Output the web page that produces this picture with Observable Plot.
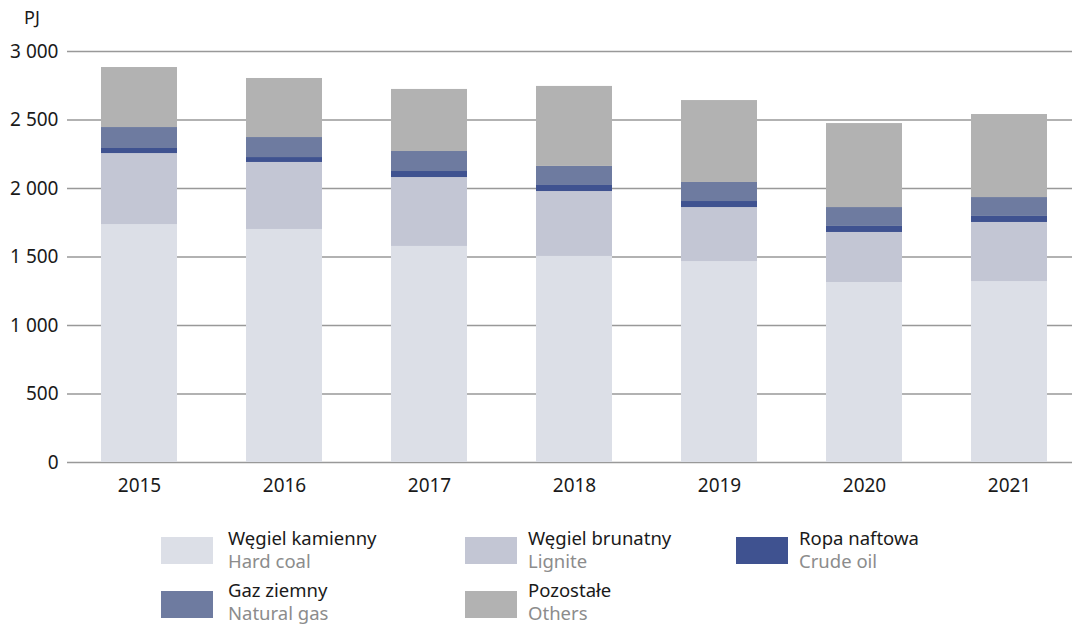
<!DOCTYPE html>
<html>
<head>
<meta charset="utf-8">
<script src="https://cdn.jsdelivr.net/npm/d3@7"></script>
<script src="https://cdn.jsdelivr.net/npm/@observablehq/plot@0.6"></script>
<style>
  body { margin: 0; background: #fff; font-family: "Noto Sans", sans-serif; }
  #wrap { position: relative; width: 1072px; height: 624px; overflow: hidden; }
  #unit { position: absolute; left: 24px; top: 5px; font-size: 18px; color: #1a1a1a; }
  .sw { position: absolute; width: 52px; height: 27px; }
  .lt { position: absolute; font-size: 18.5px; line-height: 23px; color: #1a1a1a; white-space: nowrap; }
  .lt span { display: block; color: #8c8c8c; }
</style>
</head>
<body>
<div id="wrap">
  <div id="chart"></div>
  <div id="unit">PJ</div>
  <div id="legend"></div>
</div>
<script>
const years = ["2015", "2016", "2017", "2018", "2019", "2020", "2021"];
const seriesPl = ["Węgiel kamienny", "Węgiel brunatny", "Ropa naftowa", "Gaz ziemny", "Pozostałe"];
const seriesEn = ["Hard coal", "Lignite", "Crude oil", "Natural gas", "Others"];
const colors = ["#dcdfe7", "#c3c6d4", "#3f5290", "#6e7ba0", "#b2b2b2"];
const hardCoal = [1737, 1701, 1577, 1504, 1467, 1314, 1321];
const lignite  = [518, 489, 503, 474, 394, 365, 431];
const crudeOil = [37, 36, 44, 44, 44, 44, 44];
const naturalGas = [153, 146, 146, 139, 139, 138, 138];
const others   = [438, 431, 453, 584, 598, 613, 606];
const yTicks = [0, 500, 1000, 1500, 2000, 2500, 3000];

const seriesValues = [hardCoal, lignite, crudeOil, naturalGas, others];
const data = [];
seriesValues.forEach((vals, si) => {
  vals.forEach((v, yi) => data.push({year: years[yi], series: seriesPl[si], order: si, value: v}));
});

const fmt = d3.formatLocale({thousands: " ", grouping: [3], decimal: ","}).format(",");

const chart = Plot.plot({
  width: 1072,
  height: 500,
  marginTop: 51,
  marginBottom: 38,
  marginLeft: 67,
  marginRight: 0,
  style: {fontFamily: "Noto Sans, sans-serif", fontSize: "19px", color: "#1a1a1a", background: "#fff"},
  x: {domain: years, paddingInner: 0.476, paddingOuter: 0.2034, align: 0.576, label: null},
  y: {domain: [0, 3000], label: null},
  color: {domain: seriesPl, range: colors},
  marks: [
    Plot.gridY(yTicks, {stroke: "#999999", strokeOpacity: 1, strokeWidth: 1.4}),
    Plot.barY(data, {x: "year", y: "value", fill: "series", order: seriesPl}),
    Plot.axisY(yTicks, {tickSize: 0, tickPadding: 9, tickFormat: fmt, label: null, fontSize: 19}),
    Plot.axisX({tickSize: 0, tickPadding: 16, label: null, fontSize: 19})
  ]
});
document.getElementById("chart").appendChild(chart);

const legendPos = [
  {sx: 161, sy: 537, tx: 228, ty: 526},
  {sx: 465, sy: 537, tx: 528, ty: 526},
  {sx: 736, sy: 537, tx: 799, ty: 526},
  {sx: 161, sy: 591, tx: 228, ty: 578},
  {sx: 465, sy: 591, tx: 528, ty: 578}
];
const legend = document.getElementById("legend");
seriesPl.forEach((name, i) => {
  const p = legendPos[i];
  const sw = document.createElement("div");
  sw.className = "sw";
  sw.style.left = p.sx + "px"; sw.style.top = p.sy + "px"; sw.style.background = colors[i];
  legend.appendChild(sw);
  const t = document.createElement("div");
  t.className = "lt";
  t.style.left = p.tx + "px"; t.style.top = p.ty + "px";
  t.textContent = name;
  const en = document.createElement("span");
  en.textContent = seriesEn[i];
  t.appendChild(en);
  legend.appendChild(t);
});
</script>
</body>
</html>
